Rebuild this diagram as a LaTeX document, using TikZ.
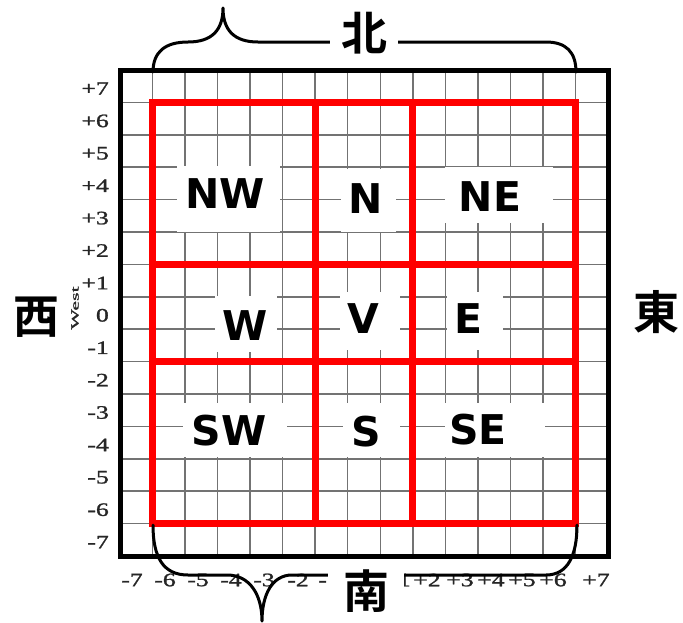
\documentclass[tikz,border=0pt]{standalone}
\usepackage{fontspec}
\setmainfont{Liberation Serif}
\newfontfamily\axfont{Liberation Serif}[FakeBold=1.2]
\newfontfamily\lblfont{DejaVu Sans}
\newfontfamily\cjkfont{Noto Sans CJK JP Bold}
\begin{document}
\begin{tikzpicture}[x=1pt,y=-1pt,
  gridline/.style={black!55, line width=1.5pt},
  frame/.style={black, line width=5pt},
  redline/.style={red, line width=7pt},
  bracestyle/.style={black, line width=3pt, line cap=round, line join=round},
  ax/.style={font=\axfont\fontsize{19}{19}\selectfont, text=black!85, inner sep=0pt},
  dirlbl/.style={font=\lblfont\bfseries\fontsize{41}{41}\selectfont, inner sep=0pt},
  wbox/.style={fill=white, draw=none, inner sep=0pt},
  cjk/.style={font=\cjkfont\fontsize{46}{46}\selectfont, inner sep=0pt},
]
\useasboundingbox (0,0) rectangle (683,622);
\fill[white] (0,0) rectangle (683,622);

% grid
\foreach \i in {1,...,14} {
  \draw[gridline] ({120+\i*32.533},70) -- ({120+\i*32.533},556);
  \draw[gridline] (120,{70+\i*32.4}) -- (608,{70+\i*32.4});
}

% white label boxes
\node[wbox, minimum width=103, minimum height=66] (nwbox) at (228.5,199) {};
\node[wbox, minimum width=55, minimum height=63] (nbox) at (368.5,200.5) {};
\node[wbox, minimum width=108, minimum height=56] (nebox) at (499,195) {};
\node[wbox, minimum width=62, minimum height=56] (wbx) at (246,324) {};
\node[wbox, minimum width=60, minimum height=58] (vbox) at (370,321) {};
\node[wbox, minimum width=56, minimum height=58] (ebox) at (475,321) {};
\node[wbox, minimum width=104, minimum height=54] (swbox) at (235,430) {};
\node[wbox, minimum width=57, minimum height=54] (sbox) at (371.5,430) {};
\node[wbox, minimum width=100, minimum height=54] (sebox) at (495,430) {};

% red partition
\draw[redline] (152.5,102.4) rectangle (575.5,523.6);
\draw[redline] (315.2,102.4) -- (315.2,523.6);
\draw[redline] (412.8,102.4) -- (412.8,523.6);
\draw[redline] (152.5,264.4) -- (575.5,264.4);
\draw[redline] (152.5,361.6) -- (575.5,361.6);

% frame
\draw[frame] (120,70) rectangle (608,556);

% region labels
\node[dirlbl] (nw) at (225,194) {NW};
\node[dirlbl] (n) at (366,199) {N};
\node[dirlbl] (ne) at (490,197) {NE};
\node[dirlbl] (w) at (245,326) {W};
\node[dirlbl] (v) at (363,319) {V};
\node[dirlbl] (e) at (468,319) {E};
\node[dirlbl] (sw) at (229,431) {SW};
\node[dirlbl] (s) at (366,432) {S};
\node[dirlbl] (se) at (478,430) {SE};

% left axis labels
\foreach \v [count=\k from 0] in {+7,+6,+5,+4,+3,+2,+1,0,-1,-2,-3,-4,-5,-6,-7} {
  \node[ax, anchor=east] (ly\k) at (109,{70+32.4*\k+18.5}) {\scalebox{1.35}[1]{\v}};
}
% bottom axis labels
\foreach \v/\xx [count=\k] in {-7/132,-6/165,-5/198,-4/231,-3/264,-2/298,-1/329,+1/397,+2/427,+3/460,+4/491,+5/522,+6/553,+7/596} {
  \node[ax] (bx\k) at (\xx,580) {\scalebox{1.35}[1]{\v}};
}

% small rotated word
\node[rotate=90, font=\axfont\fontsize{11}{11}\selectfont, inner sep=0pt, text=black!85] (west) at (75,308) {\scalebox{2}[1]{West}};

% braces
\draw[bracestyle] (153,72) .. controls (153,52) and (165,42) .. (188,42)
  .. controls (212,42) and (223,30) .. (223,8)
  .. controls (223,30) and (234,42) .. (258,42) -- (546,42)
  .. controls (566,42) and (576,52) .. (576,72);
\draw[bracestyle] (153,525) .. controls (153,557) and (163,575) .. (188,575) -- (227,575)
  .. controls (250,575) and (262,595) .. (262,621)
  .. controls (262,595) and (272,575) .. (292,575) -- (546,575)
  .. controls (568,575) and (577,555) .. (577,525);

% compass labels
\node[cjk, fill=white, minimum width=68, minimum height=67] (bei) at (364,33.5) {北};
\node[cjk, fill=white, minimum width=76, minimum height=62] (nan) at (366,591) {南};
\node[cjk] (xi) at (36,317) {西};
\node[cjk] (dong) at (656,312) {東};
\end{tikzpicture}
\end{document}
